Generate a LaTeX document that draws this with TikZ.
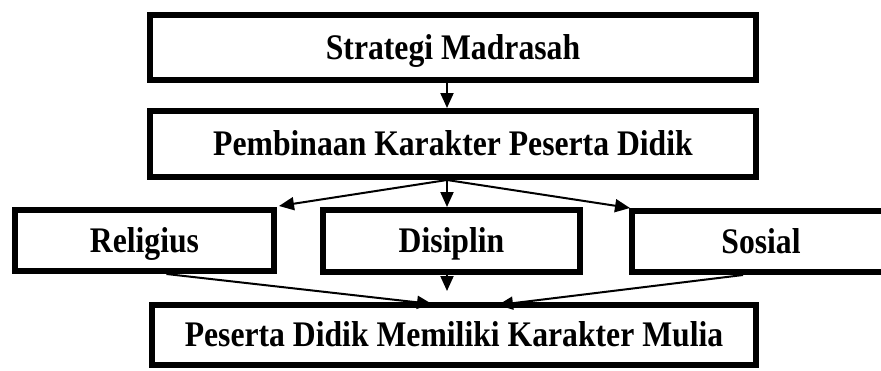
\documentclass[tikz,border=0pt]{standalone}
\usepackage{fontspec}
\setmainfont[FakeStretch=0.88]{Liberation Serif}
\usetikzlibrary{arrows.meta}
\begin{document}
\begin{tikzpicture}[x=1pt,y=1pt,
  box/.style={draw=black,line width=6pt,outer sep=3pt,inner sep=0pt,rectangle,
    text height=23pt,text depth=0pt,
    font=\fontsize{36}{40}\selectfont\bfseries},
  arr/.style={line width=2pt,-{Triangle[length=15pt,width=13pt]}}]
\useasboundingbox (0,0) rectangle (881,-370);
\node[box,minimum width=606pt,minimum height=65pt] (b1) at (453,-47.5) {Strategi Madrasah};
\node[box,minimum width=606pt,minimum height=66pt] (b2) at (453,-144) {Pembinaan Karakter Peserta Didik};
\node[box,minimum width=259pt,minimum height=61pt] (rel) at (144.5,-240.5) {Religius};
\node[box,minimum width=257pt,minimum height=62pt] (dis) at (451.5,-241) {Disiplin};
\node[box,minimum width=258pt,minimum height=61pt] (sos) at (761,-241.5) {Sosial};
\node[box,minimum width=604pt,minimum height=60pt] (b4) at (454,-335) {Peserta Didik Memiliki Karakter Mulia};
\coordinate (top) at ([xshift=-6pt]b1.south);
\coordinate (hub) at ([xshift=-6pt]b2.south);
\coordinate (dend) at (hub |- 0,-291);
\draw[arr] (top) -- (top |- b2.north);
\draw[arr] (hub) -- (hub |- dis.north);
\draw[arr] (hub) -- ([xshift=2pt,yshift=1pt]rel.north east);
\draw[arr] (hub) -- ([xshift=1pt]sos.north west);
\draw[arr] (hub |- dis.south) -- (dend);
\draw[arr] ([xshift=22pt]rel.south) -- ([xshift=-22pt,yshift=-2pt]b4.north);
\draw[arr] ([xshift=-18pt]sos.south) -- ([xshift=44pt,yshift=-3pt]b4.north);
\end{tikzpicture}
\end{document}
